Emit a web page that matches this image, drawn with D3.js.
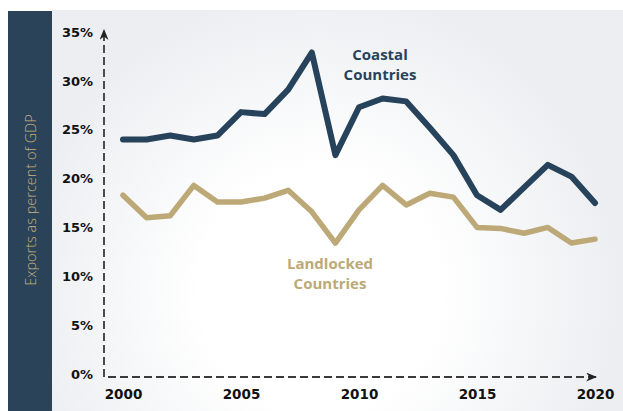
<!DOCTYPE html>
<html>
<head>
<meta charset="utf-8">
<script src="https://cdn.jsdelivr.net/npm/d3@7"></script>
<style>
  body { margin: 0; background: #fff; }
  svg { display: block; }
</style>
</head>
<body>
<div id="chart"></div>
<script>
var years = d3.range(2000, 2021);
var coastal = [24.0, 24.0, 24.4, 24.0, 24.4, 26.8, 26.6, 29.1, 32.9, 22.4, 27.3,
               28.2, 27.9, 25.2, 22.4, 18.3, 16.8, 19.1, 21.4, 20.2, 17.5];
var landlocked = [18.3, 16.0, 16.2, 19.3, 17.6, 17.6, 18.0, 18.8, 16.6, 13.4, 16.8,
                  19.3, 17.3, 18.5, 18.1, 15.0, 14.9, 14.4, 15.0, 13.4, 13.8];
var yTicks = [0, 5, 10, 15, 20, 25, 30, 35];
var xTicks = [2000, 2005, 2010, 2015, 2020];

var W = 623, H = 411;

var svg = d3.select("#chart")
    .append("svg")
        .attr("width", W)
        .attr("height", H);

var defs = svg.append("defs");
var grad = defs.append("radialGradient")
    .attr("id", "bg")
    .attr("gradientUnits", "userSpaceOnUse")
    .attr("cx", 320).attr("cy", 290).attr("r", 300);
grad.append("stop").attr("offset", "0%").attr("stop-color", "#ffffff");
grad.append("stop").attr("offset", "40%").attr("stop-color", "#ffffff");
grad.append("stop").attr("offset", "100%").attr("stop-color", "#eceef1");

defs.append("marker")
    .attr("id", "arrow")
    .attr("viewBox", "0 0 10 10")
    .attr("refX", 9).attr("refY", 5)
    .attr("markerWidth", 11).attr("markerHeight", 9)
    .attr("markerUnits", "userSpaceOnUse")
    .attr("orient", "auto")
    .attr("preserveAspectRatio", "none")
  .append("path")
    .attr("d", "M0,0 L10,5 L0,10 L3,5 Z")
    .attr("fill", "#222");

// background + side panel
svg.append("rect")
    .attr("x", 52).attr("y", 10)
    .attr("width", W - 52).attr("height", H - 10)
    .attr("fill", "url(#bg)");
svg.append("rect")
    .attr("x", 8).attr("y", 11)
    .attr("width", 44).attr("height", H - 11)
    .attr("fill", "#2a4359");

svg.append("text")
    .attr("transform", "translate(36,200) rotate(-90)")
    .attr("text-anchor", "middle")
    .style("font-family", "'Open Sans', sans-serif")
    .style("font-weight", 300)
    .style("font-size", "14.5px")
    .style("fill", "#c2ae7e")
    .text("Exports as percent of GDP");

var x = d3.scaleLinear()
    .domain([2000, 2020])
    .range([123, 595]);

var y = d3.scaleLinear()
    .domain([0, 35])
    .range([374, 32]);

// dashed axes with arrows
svg.append("line")
    .attr("x1", 104).attr("y1", y(0) + 3)
    .attr("x2", 104).attr("y2", y(35) - 2)
    .attr("stroke", "#3a3a3a")
    .attr("stroke-width", 1.8)
    .attr("stroke-dasharray", "8,4")
    .attr("marker-end", "url(#arrow)");
svg.append("line")
    .attr("x1", 108).attr("y1", 377)
    .attr("x2", 596).attr("y2", 377)
    .attr("stroke", "#3a3a3a")
    .attr("stroke-width", 1.8)
    .attr("stroke-dasharray", "8,4")
    .attr("marker-end", "url(#arrow)");

var axisFont = "'DejaVu Sans', Verdana, sans-serif";

var yAxis = svg.append("g")
    .attr("transform", "translate(93,0)")
    .call(d3.axisLeft(y).tickValues(yTicks).tickSize(0).tickPadding(0)
        .tickFormat(function(d) { return d + "%"; }));
yAxis.select(".domain").remove();
yAxis.selectAll("text")
    .style("font-family", axisFont)
    .style("font-weight", "bold")
    .style("font-size", "13px")
    .style("fill", "#111");

var xAxis = svg.append("g")
    .attr("transform", "translate(0,389)")
    .call(d3.axisBottom(x).tickValues(xTicks).tickSize(0).tickPadding(0)
        .tickFormat(d3.format("d")));
xAxis.select(".domain").remove();
xAxis.selectAll("text")
    .attr("dy", "0.71em")
    .style("font-family", axisFont)
    .style("font-weight", "bold")
    .style("font-size", "13.5px")
    .style("fill", "#111");

var line = d3.line()
    .x(function(d, i) { return x(years[i]); })
    .y(function(d) { return y(d); });

svg.append("path")
    .datum(landlocked)
    .attr("d", line)
    .attr("fill", "none")
    .attr("stroke", "#bda977")
    .attr("stroke-width", 5.5)
    .attr("stroke-linejoin", "round")
    .attr("stroke-linecap", "round");

svg.append("path")
    .datum(coastal)
    .attr("d", line)
    .attr("fill", "none")
    .attr("stroke", "#27435b")
    .attr("stroke-width", 6)
    .attr("stroke-linejoin", "round")
    .attr("stroke-linecap", "round");

// series labels, one text per line
var labelFont = "'Open Sans', sans-serif";
function addLabel(lines, cx, y0, color) {
  lines.forEach(function(t, i) {
    svg.append("text")
        .attr("x", cx)
        .attr("y", y0 + i * 20.5)
        .attr("text-anchor", "middle")
        .style("font-family", labelFont)
        .style("font-weight", "bold")
        .style("font-size", "15px")
        .style("fill", color)
        .text(t);
  });
}
addLabel(["Coastal", "Countries"], 380, 59.5, "#27435b");
addLabel(["Landlocked", "Countries"], 330, 268.5, "#bda977");
</script>
</body>
</html>
